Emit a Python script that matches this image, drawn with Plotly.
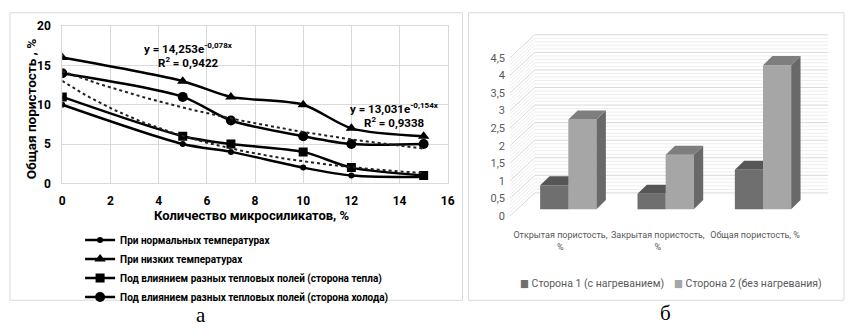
import numpy as np
import plotly.graph_objects as go

W, H = 855, 336

# ---- panel "а": total porosity vs. microsilicate content ----
silica_pct = [0, 5, 7, 10, 12, 15]
por_normal = [10, 5, 4, 2, 1, 0.8]
por_low = [16, 13, 11, 10, 7, 6]
por_warm = [11, 6, 5, 4, 2, 1]
por_cold = [14, 11, 8, 6, 5, 5]
line_names = [
    "При нормальных температурах",
    "При низких температурах",
    "Под влиянием разных тепловых полей (сторона тепла)",
    "Под влиянием разных тепловых полей (сторона холода)",
]
# exponential trendlines y = a*exp(b*x)
trend_cold_a, trend_cold_b, trend_cold_r2 = 14.253, -0.078, 0.9422
trend_warm_a, trend_warm_b, trend_warm_r2 = 13.031, -0.154, 0.9338

# ---- panel "б": porosity of the two sides ----
bar_categories = ["Открытая пористость,<br>%", "Закрытая пористость,<br>%", "Общая пористость, %"]
side1_vals = [0.68, 0.44, 1.12]
side2_vals = [2.55, 1.55, 4.1]
side_names = ["Сторона 1 (с нагреванием)", "Сторона 2 (без нагревания)"]
bar_ticks = [0, 0.5, 1, 1.5, 2, 2.5, 3, 3.5, 4, 4.5]


def fx(px):
    return px / W


def fy(py):
    return 1 - py / H


def dec(v):
    return f"{v:g}".replace(".", ",")


NARROW = "Roboto, DejaVu Sans Condensed, sans-serif"
GRID = "#d9d9d9"

fig = go.Figure()

# main series
styles = [
    (por_normal, dict(symbol="circle", size=6)),
    (por_low, dict(symbol="triangle-up", size=10)),
    (por_warm, dict(symbol="square", size=9)),
    (por_cold, dict(symbol="circle", size=10)),
]
for name, (vals, mk) in zip(line_names, styles):
    fig.add_trace(go.Scatter(
        x=silica_pct, y=vals, name=name, mode="lines+markers",
        line=dict(color="black", width=2.5, shape="spline", smoothing=0.8),
        marker=dict(color="black", **mk), xaxis="x", yaxis="y", legend="legend",
    ))

# trendlines
xt = np.linspace(silica_pct[0], silica_pct[-1], 80)
for a, b in [(trend_cold_a, trend_cold_b), (trend_warm_a, trend_warm_b)]:
    fig.add_trace(go.Scatter(
        x=xt, y=a * np.exp(b * xt), mode="lines", showlegend=False, hoverinfo="skip",
        line=dict(color="#222", width=2, dash="dot"), xaxis="x", yaxis="y",
    ))

# ---- 3D-style bars ----
X2_C0, X2_PX = 572.0, 98.5       # category 0 centre (px) and px per category
Y2_0, Y2_PX = 211.0, 165.0 / 4.5  # baseline (px) and px per unit
BW = 28.5 / X2_PX
DXB, DYB = 9.5 / X2_PX, 9.5 / Y2_PX          # bar depth
DXW, DYW = 17.0 / X2_PX, 17.0 / Y2_PX        # back wall offset
DXF, DYF = -8.0 / X2_PX, -7.0 / Y2_PX        # front (axis) plane offset
WALL_L = (513 - X2_C0) / X2_PX               # side wall front edge
WALL_B = (538 - X2_C0) / X2_PX               # side wall back edge / back wall left
WALL_R = (835 - X2_C0) / X2_PX

x2_rng = [-0.65, 2.75]
y2_rng = [-0.25, 5.0]

shapes = []
# wall gridlines (minor + major)
for k in range(0, 46):
    v = k * 0.1
    col = GRID if k % 5 == 0 else "#eeeeee"
    shapes.append(dict(type="line", xref="x2", yref="y2", layer="below",
                       x0=WALL_B, x1=WALL_R, y0=v + DYW, y1=v + DYW,
                       line=dict(color=col, width=1)))
    shapes.append(dict(type="line", xref="x2", yref="y2", layer="below",
                       x0=WALL_L, x1=WALL_B, y0=v + DYF, y1=v + DYW,
                       line=dict(color=col, width=1)))

dark = dict(front="#6f6f6f", top="#565656", side="#4a4a4a")
light = dict(front="#a6a6a6", top="#7e7e7e", side="#696969")


def faces(x0, x1, h, pal, layer):
    top = f"M{x0},{h} L{x1},{h} L{x1 + DXB},{h + DYB} L{x0 + DXB},{h + DYB} Z"
    side = f"M{x1},0 L{x1},{h} L{x1 + DXB},{h + DYB} L{x1 + DXB},{DYB} Z"
    return [
        dict(type="path", xref="x2", yref="y2", layer=layer, path=side,
             fillcolor=pal["side"], line=dict(width=0)),
        dict(type="path", xref="x2", yref="y2", layer=layer, path=top,
             fillcolor=pal["top"], line=dict(width=0)),
    ]


for i, (h1, h2) in enumerate(zip(side1_vals, side2_vals)):
    shapes += faces(i - BW, i, h1, dark, "below")
    shapes += faces(i, i + BW, h2, light, "above")

cat_idx = list(range(len(bar_categories)))
fig.add_trace(go.Bar(x=cat_idx, y=side1_vals, width=BW, offset=-BW, name=side_names[0],
                     marker=dict(color=dark["front"], line=dict(width=0)),
                     xaxis="x2", yaxis="y2", showlegend=False))
fig.add_trace(go.Bar(x=cat_idx, y=side2_vals, width=BW, offset=0, name=side_names[1],
                     marker=dict(color=light["front"], line=dict(width=0)),
                     xaxis="x2", yaxis="y2", showlegend=False))
# carrier for the front-plane axes
fig.add_trace(go.Scatter(x=[None], y=[None], xaxis="x3", yaxis="y3",
                         showlegend=False, hoverinfo="skip"))

# panel frames
shapes.append(dict(type="rect", xref="paper", yref="paper", layer="below",
                   x0=fx(7), x1=fx(465), y0=fy(306), y1=fy(6), line=dict(color=GRID, width=1)))
shapes.append(dict(type="rect", xref="paper", yref="paper", layer="below",
                   x0=fx(471), x1=fx(851), y0=fy(306), y1=fy(6), line=dict(color=GRID, width=1)))

bold_font = dict(family=NARROW, size=11.5, color="black", weight="bold")
ann = [
    dict(text="Общая пористость , %", x=fx(28), y=fy(106), textangle=-90,
         font=dict(family=NARROW, size=13.5, color="black", weight="bold")),
    dict(text="Количество микросиликатов, %", x=fx(252), y=fy(218),
         font=dict(family=NARROW, size=13, color="black", weight="bold")),
    dict(text=f"y = {dec(trend_cold_a)}e<sup>{dec(trend_cold_b)}x</sup>", x=fx(188), y=fy(43), font=bold_font),
    dict(text=f"R<sup>2</sup> = {dec(trend_cold_r2)}", x=fx(188), y=fy(58), font=bold_font),
    dict(text=f"y = {dec(trend_warm_a)}e<sup>{dec(trend_warm_b)}x</sup>", x=fx(396), y=fy(106), font=bold_font),
    dict(text=f"R<sup>2</sup> = {dec(trend_warm_r2)}", x=fx(396), y=fy(121), font=bold_font),
    dict(text="а", x=fx(200), y=fy(321), font=dict(family="Liberation Serif, serif", size=21, color="black")),
    dict(text="б", x=fx(670), y=fy(319), font=dict(family="Liberation Serif, serif", size=21, color="black")),
]
leg_x = [521, 677]
for nm, col, lx in zip(side_names, [dark["front"], light["front"]], leg_x):
    ann.append(dict(text=f"<span style='color:{col}'>■</span> {nm}", x=fx(lx), y=fy(289),
                    xanchor="left", font=dict(family=NARROW, size=10.5, color="#595959")))
for a in ann:
    a.setdefault("xref", "paper")
    a.setdefault("yref", "paper")
    a.setdefault("showarrow", False)
    a.setdefault("xanchor", "center")
    a.setdefault("yanchor", "middle")

tick_bold = dict(family=NARROW, size=12, color="black", weight="bold")
fig.update_layout(
    width=W, height=H, margin=dict(l=0, r=0, t=0, b=0),
    paper_bgcolor="white", plot_bgcolor="rgba(0,0,0,0)",
    barmode="overlay", shapes=shapes, annotations=ann,
    xaxis=dict(domain=[fx(60), fx(450)], range=[0, 16], dtick=2, anchor="y",
               showgrid=True, gridcolor=GRID, showline=True, linecolor=GRID, mirror=True,
               zeroline=False, ticks="", tickfont=tick_bold, ticklabelstandoff=6),
    yaxis=dict(domain=[fy(184), fy(20)], range=[0, 20], dtick=5, anchor="x",
               showgrid=True, gridcolor=GRID, showline=True, linecolor=GRID, mirror=True,
               zeroline=False, ticks="", tickfont=tick_bold, ticklabelstandoff=8),
    xaxis2=dict(domain=[fx(X2_C0 + x2_rng[0] * X2_PX), fx(X2_C0 + x2_rng[1] * X2_PX)],
                range=x2_rng, anchor="y2", visible=False),
    yaxis2=dict(domain=[fy(Y2_0 - y2_rng[0] * Y2_PX), fy(Y2_0 - y2_rng[1] * Y2_PX)],
                range=y2_rng, anchor="x2", visible=False),
    xaxis3=dict(domain=[fx(X2_C0 - 8 - 0.5 * X2_PX), fx(X2_C0 - 8 + 2.5 * X2_PX)],
                range=[-0.5, 2.5], tickvals=cat_idx, ticktext=bar_categories, tickangle=0,
                anchor="free", position=fy(218), showgrid=False, showline=False, zeroline=False,
                ticks="", ticklabelstandoff=12, tickfont=dict(family=NARROW, size=9, color="#595959")),
    yaxis3=dict(domain=[fy(218), fy(53)], range=[0, 4.5], tickvals=bar_ticks,
                ticktext=[dec(t) for t in bar_ticks], anchor="free", position=fx(512),
                showgrid=False, showline=False, zeroline=False, ticks="", ticklabelstandoff=4,
                tickfont=dict(family=NARROW, size=11, color="#595959")),
    legend=dict(x=fx(78), y=fy(228), xanchor="left", yanchor="top", bgcolor="rgba(0,0,0,0)",
                tracegroupgap=0, itemwidth=30,
                font=dict(family=NARROW, size=10, color="black", weight="bold")),
)

fig.write_html("out.html")
